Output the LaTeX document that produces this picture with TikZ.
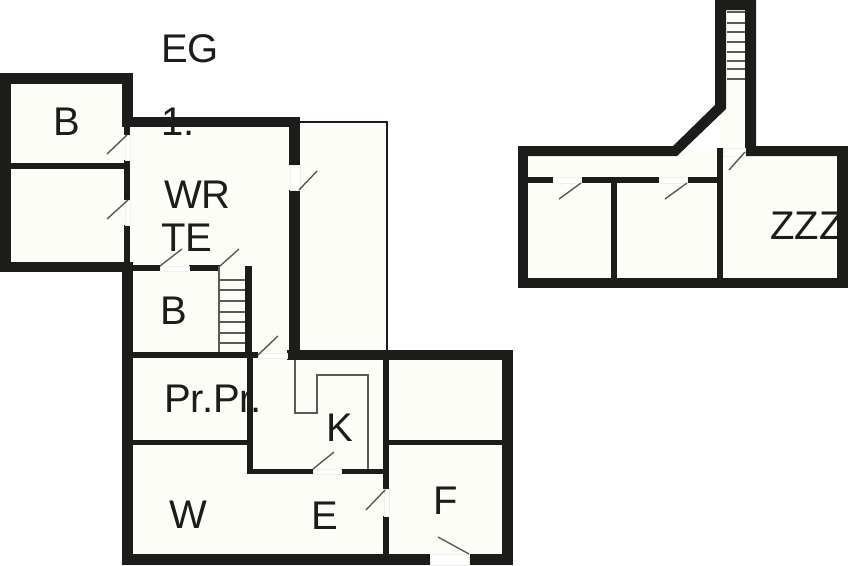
\documentclass[tikz,border=0pt]{standalone}
\usepackage{fontspec}
\setmainfont{Liberation Sans}
\usepackage{xcolor}
\definecolor{floorcol}{HTML}{FDFDF8}
\definecolor{wallcol}{HTML}{1C1C1A}
\definecolor{linecol}{HTML}{5A5A56}
\definecolor{sillcol}{HTML}{F0F0EB}
\tikzstyle{floorarea} = [fill=floorcol, draw=none]
\tikzstyle{wall} = [fill=wallcol, draw=none]
\tikzstyle{thinwall} = [draw=wallcol, line width=2.2pt]
\tikzstyle{doorleaf} = [draw=linecol, line width=1.4pt]
\tikzstyle{doorsill} = [draw=sillcol, fill=white, line width=0.7pt]
\tikzstyle{tread} = [draw=linecol, line width=1.3pt]
\tikzstyle{kitchenline} = [draw=linecol, line width=1.6pt]
\tikzstyle{roomlabel} = [text=wallcol, inner sep=0pt, font=\fontsize{40}{40}\selectfont]
\begin{document}
\begin{tikzpicture}[x=1pt,y=-1pt]
\useasboundingbox[fill=white] (0,0) rectangle (848,565);
\fill[floorarea] (5,78) rectangle (128,267);
\fill[floorarea] (128,122) rectangle (295,355);
\fill[floorarea] (300,122) rectangle (387,355);
\fill[floorarea] (128,355) rectangle (508,560);
\fill[floorarea] (523,151) rectangle (843,283);
\fill[floorarea] (720,5) rectangle (750,151);
\draw[thinwall] (300,122) -- (387,122) -- (387,352);
\fill[wall] (0,73) rectangle (133,84);
\fill[wall] (0,73) rectangle (11,272);
\fill[wall] (0,262) rectangle (130,272);
\fill[wall] (11,163) rectangle (127,169);
\fill[wall] (122,73) rectangle (133,125);
\fill[wall] (124,125) rectangle (130,135);
\fill[wall] (124,160) rectangle (130,200);
\fill[wall] (124,225) rectangle (130,265);
\fill[wall] (122,117) rectangle (300,127);
\fill[wall] (289,117) rectangle (300,165);
\fill[wall] (289,190) rectangle (300,360);
\fill[wall] (127,265) rectangle (160,271);
\fill[wall] (189,265) rectangle (220,271);
\fill[wall] (245,266) rectangle (252,353);
\fill[wall] (122,262) rectangle (133,565);
\fill[wall] (127,352) rectangle (258,358);
\fill[wall] (287,350) rectangle (513,360);
\fill[wall] (247,352) rectangle (253,474);
\fill[wall] (133,440) rectangle (247,445);
\fill[wall] (389,440) rectangle (505,445);
\fill[wall] (247,469) rectangle (313,474);
\fill[wall] (341,469) rectangle (388,474);
\fill[wall] (383,350) rectangle (389,489);
\fill[wall] (383,516) rectangle (389,556);
\fill[wall] (502,350) rectangle (513,565);
\fill[wall] (122,554) rectangle (430,565);
\fill[wall] (469,554) rectangle (513,565);
\fill[wall] (518,146) rectangle (528,288);
\fill[wall] (518,146) -- (673,146) -- (715,105) -- (715,0) -- (756,0) -- (756,146) -- (848,146)
  -- (848,156) -- (745,156) -- (745,10) -- (726,10) -- (726,109) -- (677,156) -- (518,156) -- cycle;
\fill[wall] (837,146) rectangle (848,288);
\fill[wall] (518,278) rectangle (848,288);
\fill[wall] (528,177) rectangle (553,183);
\fill[wall] (581,177) rectangle (659,183);
\fill[wall] (687,177) rectangle (718,183);
\fill[wall] (717,148) rectangle (723,278);
\fill[wall] (611,183) rectangle (617,278);
\foreach \xa/\ya/\xb/\yb in {125/135/130/160, 125/200/130/225, 290/165/300/190, 160/266/189/271,
  258/353/287/358, 313/469/341/474, 384/489/389/516, 430/554/469/565,
  553/177/581/183, 659/177/687/183, 723/148/745/156}
  \draw[doorsill] (\xa,\ya) rectangle (\xb,\yb);
\draw[tread] (219,266) -- (219,352);
\foreach \y in {280,290,301,312,322,333,343}
  \draw[tread] (219,\y) -- (245,\y);
\foreach \y in {12,23,32,42,52,61,69,79}
  \draw[tread] (727,\y) -- (745,\y);
\draw[kitchenline] (295,360) -- (295,413) -- (317,413) -- (317,375) -- (368,375) -- (368,469);
\foreach \xa/\ya/\xb/\yb in {107/154/127/135, 107/219/128/200, 299/190/317/171, 160/266/182/249,
  220/266/239/249, 258/355/278/336, 313/469/334/452, 366/510/385/490, 438/537/469/554,
  559/199/581/183, 665/199/687/183, 729/170/745/152}
  \draw[doorleaf] (\xa,\ya) -- (\xb,\yb);
\node[roomlabel, anchor=west] (eg) at (161,49) {EG};
\node[roomlabel] (bathtop) at (67,122) {B};
\node[roomlabel, anchor=west] (first) at (161,122) {1.};
\node[roomlabel, anchor=west] (wr) at (164,195) {WR};
\node[roomlabel, anchor=west] (te) at (161,238) {TE};
\node[roomlabel] (bathlow) at (174,311) {B};
\node[roomlabel, anchor=west] (prpr) at (164,399) {Pr.Pr.};
\node[roomlabel] (k) at (340,428) {K};
\node[roomlabel] (w) at (188,515) {W};
\node[roomlabel] (e) at (325,516) {E};
\node[roomlabel] (f) at (446,501) {F};
\node[roomlabel, anchor=west] (zzz) at (770,226) {ZZZ};
\end{tikzpicture}
\end{document}
